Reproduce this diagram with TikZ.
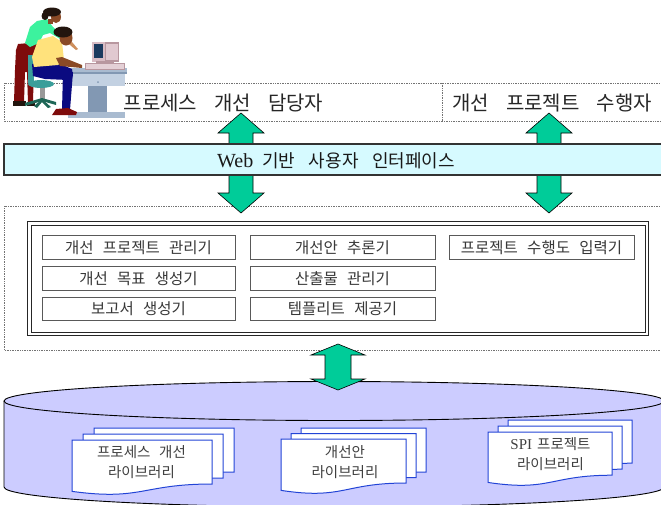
\documentclass[tikz,border=0pt]{standalone}
\usepackage{fontspec}
\setmainfont{Noto Sans CJK KR}
\newfontfamily\serifen{Liberation Serif}

\definecolor{arrowgreen}{HTML}{00CC99}
\definecolor{bandfill}{HTML}{D6FAFF}
\definecolor{dbfill}{HTML}{CCCCFF}
\definecolor{docblue}{HTML}{2244D6}
\definecolor{shirtgreen}{HTML}{3CF29E}
\definecolor{pantsred}{HTML}{7E0B0B}
\definecolor{shirtyellow}{HTML}{FFE27C}
\definecolor{pantsnavy}{HTML}{0A0A80}
\definecolor{skin}{HTML}{8A4A26}
\definecolor{hair}{HTML}{22150E}
\definecolor{chairteal}{HTML}{3A9E9A}
\definecolor{chairbase}{HTML}{1E6656}
\definecolor{desklight}{HTML}{C3D1E2}
\definecolor{deskmid}{HTML}{A9BBD0}
\definecolor{deskdark}{HTML}{8298B3}
\definecolor{monitor}{HTML}{D9BCC4}
\definecolor{monitordark}{HTML}{B8979F}
\definecolor{screen}{HTML}{1C3A5E}

\newcommand\kgap[1]{\hspace{#1em}}
% one sheet of a document stack: x, y (top left), width, height
\newcommand\docsheet[4]{%
  \draw[docline] (#1,#2) -- ({#1+#3},#2) -- ({#1+#3},{#2+0.8*#4})
    .. controls ({#1+0.5*#3},{#2+0.8*#4}) and ({#1+0.5*#3},{#2+1.107*#4}) ..
    (#1,{#2+0.934*#4}) -- cycle;}
% three stacked sheets: front sheet x, y, w, h and offset dx, dy of each sheet behind
\newcommand\docstack[6]{%
  \docsheet{#1+2*#5}{#2+2*#6}{#3}{#4}%
  \docsheet{#1+#5}{#2+#6}{#3}{#4}%
  \docsheet{#1}{#2}{#3}{#4}}
% vertical block arrow with two heads: centre x, top tip, bottom tip, shaft half width, head half width, head length
\newcommand\blockarrow[6]{%
  \draw[blockarrow] (#1,#2) -- ({#1+#5},{#2+#6}) -- ({#1+#4},{#2+#6})
    -- ({#1+#4},{#3-#6}) -- ({#1+#5},{#3-#6}) -- (#1,#3)
    -- ({#1-#5},{#3-#6}) -- ({#1-#4},{#3-#6}) -- ({#1-#4},{#2+#6})
    -- ({#1-#5},{#2+#6}) -- cycle;}

\tikzset{
  dotframe/.style={draw=black!55, line width=0.6pt, dash pattern=on 0.8pt off 0.9pt},
  toplabel/.style={inner sep=0pt, text=black!85, font=\fontsize{20}{24}\selectfont},
  blockarrow/.style={fill=arrowgreen, draw=black, line width=0.6pt, line join=miter},
  band/.style={fill=bandfill, draw=black!80, line width=1.2pt},
  bandtext/.style={inner sep=0pt, text=black!90},
  outerline/.style={draw=black!85, line width=1.3pt},
  innerline/.style={draw=black!85, line width=0.6pt},
  modbox/.style={draw=black!65, line width=0.8pt, fill=white, inner sep=0pt,
    minimum height=23.5pt, text=black!78, font=\fontsize{15.5}{18}\selectfont},
  dbline/.style={draw=black, line width=0.9pt},
  docline/.style={draw=docblue, line width=1pt, fill=white},
  doctext/.style={inner sep=0pt, align=center, text=black!75,
    font=\fontsize{14.5}{20}\selectfont},
}

\begin{document}
\begin{tikzpicture}[x=1pt, y=-1pt]
\useasboundingbox (0,0) rectangle (661,504);
\begin{scope}
\clip (0,0) rectangle (661,504);

% ---- frames of the user row and the server row
\draw[dotframe] (670,83) -- (4,83) -- (4,121) -- (670,121);
\draw[dotframe] (442,83) -- (442,121);
\draw[dotframe] (670,206) -- (4,206) -- (4,350) -- (670,350);

% ---- clip-art: two people at a workstation
% desk
\fill[deskdark] (88,86) rectangle (107,114);
\fill[deskmid] (68,112) rectangle (125,118);
\fill[desklight] (72,72) rectangle (125,86);
\fill[deskmid] (64,68) rectangle (127,73);
\fill[deskdark] (64,72) rectangle (127,73.5);
\fill[deskdark] (98,82) circle (1pt);
% computer
\fill[monitordark] (92,42) rectangle (119,62);
\fill[monitor] (92,42) rectangle (105,62);
\fill[monitor!80!white] (106,44) rectangle (118,60);
\fill[screen] (94,44) rectangle (103,58);
\fill[monitordark] (96,61) rectangle (114,64);
\fill[monitor!70!white] (85,63) rectangle (124,69);
\draw[monitordark, line width=0.5pt] (85,63) rectangle (124,69);
% standing woman
\fill[pantsred] (18,44) -- (40,42) -- (38,55) -- (34,62) -- (33,103) -- (28,103)
  -- (27,72) -- (25,72) -- (24,102) -- (14,102) -- (15,70) -- (16,50) -- cycle;
\fill[hair] (13,101) rectangle (26,106);
\fill[hair] (27,102) rectangle (35,106);
\fill[shirtgreen] (25,43) -- (30,27) -- (37,21) -- (47,19) -- (50,23) -- (53,27)
  -- (68,40) -- (67,43) -- (50,33) -- (43,35) -- (39,43) -- (30,47) -- cycle;
\fill[skin!60!orange!70!white] (67,40) -- (72,42) -- (78,49) -- (76,50) -- (70,45) -- (67,43) -- cycle;
\fill[skin] (48,19) rectangle (53,24);
\fill[skin] (56,17) ellipse [x radius=5, y radius=6];
\fill[hair] (52,12) ellipse [x radius=9, y radius=4.5];
\fill[hair] (45,16) ellipse [x radius=3.5, y radius=4];
% chair
\fill[chairteal] (28,55) rectangle (34,83);
\fill[black!40] (40,88) rectangle (45,100);
\fill[chairbase] (42,98) -- (25,103) -- (25,106) -- (42,101) -- (56,105) -- (56,102) -- cycle;
\fill[chairbase] (34,106) -- (42,99) -- (51,107) -- (48,108) -- (42,102) -- (37,108) -- cycle;
\fill[chairteal] (41,84) ellipse [x radius=13, y radius=4];
% seated man
\fill[pantsnavy] (32,64) -- (58,63) -- (72,69) -- (73,76) -- (68,80) -- (45,79) -- (33,76) -- cycle;
\fill[pantsnavy] (63,72) -- (73,72) -- (70,110) -- (62,110) -- cycle;
\fill[pantsred] (56,109) -- (68,108) -- (77,112) -- (76,115) -- (52,115) -- cycle;
\fill[shirtyellow] (38,40) -- (53,36) -- (62,42) -- (64,60) -- (58,65) -- (34,67) -- (32,57) -- cycle;
\fill[skin] (56,58) -- (62,57) -- (82,65) -- (82,68) -- (60,66) -- cycle;
\fill[skin] (66,38) ellipse [x radius=6.5, y radius=7.5];
\fill[hair] (63,32) ellipse [x radius=9.5, y radius=5.5];

% ---- user roles
\node[toplabel] (roleA) at (223.5,103) {프로세스\kgap{.85}개선\kgap{.85}담당자};
\node[toplabel] (roleB) at (552,103) {개선\kgap{.85}프로젝트\kgap{.85}수행자};

% ---- arrows between users and the web interface
\blockarrow{241}{113}{213}{12}{23}{20}
\blockarrow{549}{113}{213}{12}{23}{20}

% ---- web interface band
\draw[band] (4,144) rectangle (668,175);
\node[bandtext] (webui) at (336,161)
  {{\serifen\fontsize{20}{22}\selectfont Web}\kgap{.9}{\fontsize{18}{20}\selectfont 기반\kgap{.75}사용자\kgap{.75}인터페이스}};

% ---- server modules
\draw[outerline] (27.5,221.5) rectangle (648.5,335.5);
\draw[innerline] (30.8,224.8) rectangle (645.2,332.2);
\node[modbox, minimum width=193pt] (mgr)  at (138.5,247.5) {개선\kgap{.6}프로젝트\kgap{.6}관리기};
\node[modbox, minimum width=185pt] (infer) at (342.5,247.5) {개선안\kgap{.6}추론기};
\node[modbox, minimum width=185pt] (input) at (541.5,247.5) {프로젝트\kgap{.6}수행도\kgap{.6}입력기};
\node[modbox, minimum width=193pt] (goal) at (138.5,278.5) {개선\kgap{.6}목표\kgap{.6}생성기};
\node[modbox, minimum width=185pt] (prod) at (342.5,278.5) {산출물\kgap{.6}관리기};
\node[modbox, minimum width=193pt] (report) at (138.5,309) {보고서\kgap{.6}생성기};
\node[modbox, minimum width=185pt] (tmpl) at (342.5,309) {템플리트\kgap{.6}제공기};

% ---- repository cylinder
\fill[dbfill] (4,401) -- (4,487) .. controls (4,498) and (151.7,507) .. (334,507)
  .. controls (516.3,507) and (664,498) .. (664,487) -- (664,401) -- cycle;
\draw[dbline] (4,401) -- (4,487) .. controls (4,498) and (151.7,507) .. (334,507)
  .. controls (516.3,507) and (664,498) .. (664,487) -- (664,401);
\draw[dbline, fill=dbfill] (334,401) ellipse [x radius=330, y radius=19.5];

% ---- libraries
\docstack{72}{440}{140}{55}{11}{-6}
\docstack{281}{439}{125}{55}{10}{-5.5}
\docstack{488}{432}{124}{54}{10}{-6}
\node[doctext] (libA) at (141.5,462.5) {프로세스\kgap{.6}개선\\라이브러리};
\node[doctext] (libB) at (345,462.5) {개선안\\라이브러리};
\node[doctext] (libC) at (550.5,454) {{\serifen\fontsize{15}{20}\selectfont SPI}\kgap{.35}프로젝트\\라이브러리};

% ---- arrow between modules and repository
\blockarrow{338}{344}{390}{13}{27}{11}

\end{scope}
\end{tikzpicture}
\end{document}
